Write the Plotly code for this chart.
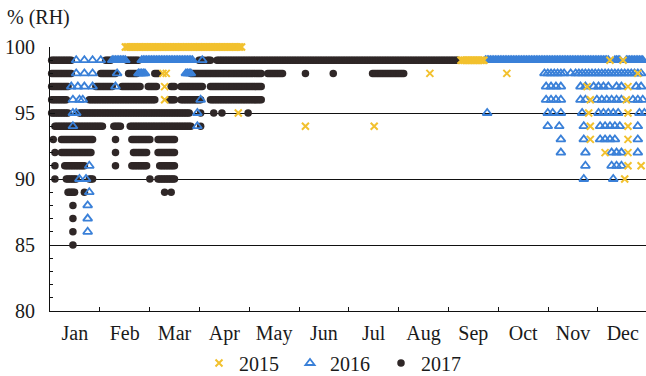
import plotly.graph_objects as go

# Daily relative-humidity readings. Days are counted from 1 January = 0.
# *_runs: continuous stretches (RH level in %, first day, last day)
# *_days: scattered single readings (RH level in %, [days])
MONTHS = ["Jan", "Feb", "Mar", "Apr", "May", "Jun",
          "Jul", "Aug", "Sep", "Oct", "Nov", "Dec"]
YEAR_LABELS = ["2015", "2016", "2017"]

rh2015_runs = [
    (100, 46, 117),
    (99, 251, 265),
]
rh2015_days = [
    (99, [342, 350]),
    (98, [69, 71, 232, 279, 359]),
    (97, [70, 328, 353]),
    (96, [70, 330, 352]),
    (95, [115, 329, 353]),
    (94, [156, 198, 330, 353]),
    (93, [330, 353]),
    (92, [339, 353]),
    (91, [353, 361]),
    (90, [351]),
]

rh2016_runs = [
    (99, 38, 46), (99, 56, 87), (99, 266, 341), (99, 345, 348), (99, 352, 362),
    (98, 54, 58), (98, 83, 86),
]
rh2016_days = [
    (99, [16, 21, 26, 31, 93]),
    (98, [16, 21, 26, 41, 302, 304, 306, 308, 310, 312, 314, 318,
          321, 323, 325, 327, 329, 331, 333, 335, 337, 339, 341, 343,
          345, 347, 349, 351, 353, 355, 357, 359, 361]),
    (97, [13, 17, 21, 26, 40, 303, 306, 309, 312, 324, 327, 332, 335,
          338, 341, 346, 349, 358, 361]),
    (96, [14, 18, 20, 92, 303, 306, 309, 312, 324, 327, 334, 337, 340,
          343, 346, 349, 356, 359, 362]),
    (95, [14, 16, 90, 267, 304, 307, 312, 325, 335, 338, 341, 344, 347,
          360, 363]),
    (94, [14, 90, 304, 311, 326, 336, 339, 342, 345, 348, 359]),
    (93, [312, 326, 336, 339, 342, 345, 359]),
    (92, [312, 327, 343, 346, 349, 359]),
    (91, [24, 327, 343, 346, 349]),
    (90, [18, 22, 326, 344]),
    (89, [24]), (88, [23]), (87, [23]), (86, [23]),
]

rh2017_runs = [
    (99, 1, 13), (99, 34, 37), (99, 47, 54), (99, 91, 94), (99, 96, 98), (99, 102, 249),
    (98, 1, 13), (98, 31, 40), (98, 48, 53), (98, 64, 66), (98, 86, 129),
    (98, 133, 142), (98, 197, 216),
    (97, 1, 11), (97, 28, 38), (97, 44, 55), (97, 60, 65), (97, 74, 76),
    (97, 80, 93), (97, 98, 129),
    (96, 1, 10), (96, 24, 64), (96, 73, 76), (96, 80, 92), (96, 98, 129),
    (95, 1, 11), (95, 18, 85),
    (94, 3, 32), (94, 39, 43), (94, 49, 86),
    (93, 7, 26), (93, 50, 61), (93, 66, 76),
    (92, 7, 25), (92, 51, 59), (92, 66, 76),
    (91, 9, 21), (91, 50, 59), (91, 67, 76),
    (90, 10, 16), (90, 24, 26), (90, 66, 76),
    (89, 11, 15),
]
rh2017_days = [
    (98, [156, 173]),
    (95, [92, 100, 105, 121]),
    (94, [92]),
    (93, [2, 40]),
    (92, [3, 40]),
    (91, [3, 40]),
    (90, [3, 61]),
    (89, [21, 70, 74]),
    (88, [14]), (87, [14]), (86, [14]), (85, [14]),
]


def expand(runs, singles):
    xs, ys = [], []
    for level, first, last in runs:
        for day in range(first, last + 1):
            xs.append(day)
            ys.append(level)
    for level, days in singles:
        xs.extend(days)
        ys.extend([level] * len(days))
    return xs, ys


SERIF = "Liberation Serif, Times New Roman, serif"
INK = "#1a1a1a"
FS = 20
MONTH_LEN = 365 / 12

fig = go.Figure()

x17, y17 = expand(rh2017_runs, rh2017_days)
fig.add_trace(go.Scatter(
    x=x17, y=y17, mode="markers", name=YEAR_LABELS[2], cliponaxis=False,
    marker=dict(symbol="circle", size=7.5, color="#2f2727"),
))

x16, y16 = expand(rh2016_runs, rh2016_days)
fig.add_trace(go.Scatter(
    x=x16, y=y16, mode="markers", name=YEAR_LABELS[1], cliponaxis=False,
    marker=dict(symbol="triangle-up-open", size=8, color="#3a80d8",
                line=dict(width=1.8, color="#3a80d8")),
))

x15, y15 = expand(rh2015_runs, rh2015_days)
fig.add_trace(go.Scatter(
    x=x15, y=y15, mode="markers", name=YEAR_LABELS[0], cliponaxis=False,
    marker=dict(symbol="x-thin", size=7, color="#f2c12e",
                line=dict(width=2, color="#f2c12e")),
))

fig.update_layout(
    template="none",
    width=646, height=376, autosize=False,
    margin=dict(l=50, r=0, t=47, b=65, pad=0, autoexpand=False),
    paper_bgcolor="white", plot_bgcolor="white",
    font=dict(family=SERIF, size=FS, color=INK),
    showlegend=True,
    legend=dict(
        orientation="h", traceorder="reversed",
        x=0.25, xanchor="left", y=-0.197, yanchor="middle",
        font=dict(family=SERIF, size=FS, color=INK),
        itemwidth=30, entrywidth=46, entrywidthmode="pixels",
        bgcolor="rgba(0,0,0,0)",
    ),
    xaxis=dict(
        range=[0, 364], showgrid=False, zeroline=False,
        showline=True, linecolor="#111", linewidth=1.2,
        tickmode="array",
        tickvals=[MONTH_LEN * (i + 0.5) for i in range(12)],
        ticktext=MONTHS, ticks="", ticklabelstandoff=4,
        tickfont=dict(family=SERIF, size=FS, color=INK),
        minor=dict(tickmode="array",
                   tickvals=[MONTH_LEN * i for i in range(1, 12)],
                   ticks="inside", ticklen=4, tickcolor="#111", tickwidth=1.2),
    ),
    yaxis=dict(
        range=[80, 100], zeroline=False,
        showline=True, linecolor="#111", linewidth=1.2,
        tickmode="array", tickvals=[80, 85, 90, 95, 100],
        ticks="inside", ticklen=5, tickcolor="#111", tickwidth=1.2,
        ticklabelstandoff=10,
        tickfont=dict(family=SERIF, size=FS, color=INK),
        showgrid=True, gridcolor="#111", gridwidth=1,
        minor=dict(dtick=1, tick0=80, ticks="inside", ticklen=3,
                   tickcolor="#111", tickwidth=1, showgrid=False),
    ),
)

fig.add_annotation(
    text="% (RH)", xref="paper", yref="paper",
    x=-45 / 596, y=1 + 29 / 264, xanchor="left", yanchor="middle",
    showarrow=False, font=dict(family=SERIF, size=FS, color=INK),
)

fig.write_html("out.html")
